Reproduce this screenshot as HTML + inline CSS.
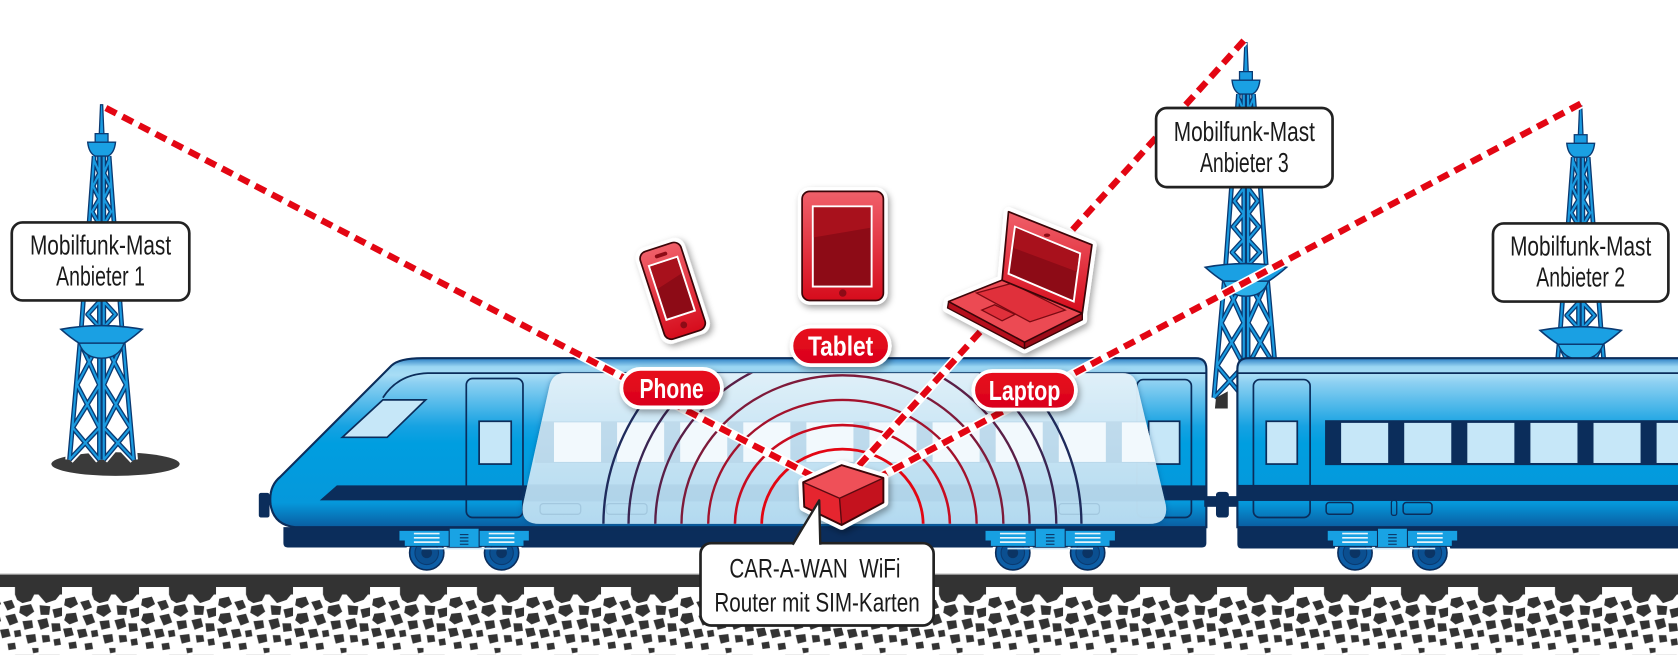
<!DOCTYPE html>
<html><head><meta charset="utf-8"><style>
html,body{margin:0;padding:0;background:#fff;}
svg{display:block;}
text{font-family:"Liberation Sans",Arial,sans-serif;}
</style></head><body>
<svg width="1678" height="664" viewBox="0 0 1569 621" preserveAspectRatio="none" xmlns="http://www.w3.org/2000/svg" xmlns:xlink="http://www.w3.org/1999/xlink">
<defs>
  <linearGradient id="bodyG" gradientUnits="userSpaceOnUse" x1="0" y1="335" x2="0" y2="494">
    <stop offset="0" stop-color="#2a7fc4"/>
    <stop offset="0.05" stop-color="#9ad6f3"/>
    <stop offset="0.1" stop-color="#a8ddf5"/>
    <stop offset="0.14" stop-color="#8ed1f2"/>
    <stop offset="0.4" stop-color="#16a2e2"/>
    <stop offset="0.5" stop-color="#009ee0"/>
    <stop offset="0.85" stop-color="#0598db"/>
    <stop offset="1" stop-color="#0a5a9e"/>
  </linearGradient>
  <linearGradient id="glassG" x1="0" y1="0" x2="0" y2="1">
    <stop offset="0" stop-color="#e4f3fb"/>
    <stop offset="0.5" stop-color="#cde8f7"/>
    <stop offset="1" stop-color="#b9def3"/>
  </linearGradient>
  <linearGradient id="redG" x1="0" y1="0" x2="0" y2="1">
    <stop offset="0" stop-color="#f0606a"/>
    <stop offset="1" stop-color="#d60c1c"/>
  </linearGradient>
  <linearGradient id="pillG" x1="0" y1="0" x2="0" y2="1">
    <stop offset="0" stop-color="#e8101f"/>
    <stop offset="1" stop-color="#d9001a"/>
  </linearGradient>
  <filter id="sh" x="-30%" y="-30%" width="170%" height="170%">
    <feDropShadow dx="2" dy="3" stdDeviation="3" flood-color="#000" flood-opacity="0.35"/>
  </filter>
  <filter id="glassSh" x="-5%" y="-10%" width="110%" height="125%">
    <feDropShadow dx="0" dy="1" stdDeviation="2.5" flood-color="#0a3f7a" flood-opacity="0.55"/>
  </filter>
  <clipPath id="ovClip">
    <path d="M528,349 L1050,349 Q1060,349 1063,359 L1090,472 Q1093,490 1074,490 L505,490 Q486,490 489,472 L514,360 Q517,349 528,349 Z"/>
  </clipPath>
  <pattern id="notch" patternUnits="userSpaceOnUse" x="58" y="549" width="72" height="8">
    <rect x="0" y="0" width="28" height="8" fill="#fff"/>
  </pattern>
  <pattern id="grav" patternUnits="userSpaceOnUse" x="58" y="556" width="72" height="56">
    <g fill="#333">
      <polygon points="28,0 46,0 43,6 35,8 30,5"/>
      <polygon points="50,0 70,0 66,5 57,8"/>
      <polygon points="3,4 12,2 15,9 8,13 2,10"/>
      <polygon points="17,7 25,5 28,12 21,15"/>
      <polygon points="33,11 43,9 46,16 39,21 32,17"/>
      <polygon points="51,10 61,11 60,19 52,19"/>
      <polygon points="63,14 72,12 72,20 65,22"/>
      <polygon points="4,18 13,17 15,25 7,28 2,24"/>
      <polygon points="19,20 28,18 31,26 23,29"/>
      <polygon points="35,25 44,24 45,31 37,33"/>
      <polygon points="49,24 58,22 60,30 52,33"/>
      <polygon points="62,27 70,27 71,34 63,35"/>
      <polygon points="1,32 9,31 11,38 3,40"/>
      <polygon points="14,33 22,32 24,39 16,41"/>
      <polygon points="27,34 33,33 34,39 28,40"/>
      <polygon points="38,38 47,37 48,44 40,46"/>
      <polygon points="53,38 60,38 61,44 54,45"/>
      <polygon points="64,42 70,41 71,47 65,48"/>
      <polygon points="6,45 13,44 14,50 7,51"/>
      <polygon points="21,46 28,45 29,51 22,52"/>
      <polygon points="44,50 50,50 50,54 45,55"/>
    </g>
  </pattern>
  <g id="tw">
    <path d="M-7,48 L-19,209 L-30,332 M7,48 L19,209 L30,332 M-2,48 L-2,332 M2,48 L2,332 M-7,52 L-2,64 L-8,76 L-2,88 L-9,100 L-2,112 L-10,124 L-2,136 L-11,148 L-2,160 L-12,172 L-2,184 L-13,196 L-2,208 M7,52 L2,64 L8,76 L2,88 L9,100 L2,112 L10,124 L2,136 L11,148 L2,160 L12,172 L2,184 L13,196 L2,208 M-20,222 L-2,262 M-2,222 L-23,262 M-23,262 L-2,302 M-2,262 L-27,302 M-27,302 L-2,332 M-2,302 L-30,332 M20,222 L2,262 M2,222 L23,262 M23,262 L2,302 M2,262 L27,302 M27,302 L2,332 M2,302 L30,332" fill="none" stroke="#fff" stroke-width="8" stroke-linejoin="round"/>
    <path d="M-7,48 L-19,209 L-30,332 M7,48 L19,209 L30,332 M-2,48 L-2,332 M2,48 L2,332 M-7,52 L-2,64 L-8,76 L-2,88 L-9,100 L-2,112 L-10,124 L-2,136 L-11,148 L-2,160 L-12,172 L-2,184 L-13,196 L-2,208 M7,52 L2,64 L8,76 L2,88 L9,100 L2,112 L10,124 L2,136 L11,148 L2,160 L12,172 L2,184 L13,196 L2,208 M-20,222 L-2,262 M-2,222 L-23,262 M-23,262 L-2,302 M-2,262 L-27,302 M-27,302 L-2,332 M-2,302 L-30,332 M20,222 L2,262 M2,222 L23,262 M23,262 L2,302 M2,262 L27,302 M27,302 L2,332 M2,302 L30,332" fill="none" stroke="#0a3a72" stroke-width="4.5" stroke-linejoin="round"/>
    <path d="M-7,48 L-19,209 L-30,332 M7,48 L19,209 L30,332 M-2,48 L-2,332 M2,48 L2,332 M-7,52 L-2,64 L-8,76 L-2,88 L-9,100 L-2,112 L-10,124 L-2,136 L-11,148 L-2,160 L-12,172 L-2,184 L-13,196 L-2,208 M7,52 L2,64 L8,76 L2,88 L9,100 L2,112 L10,124 L2,136 L11,148 L2,160 L12,172 L2,184 L13,196 L2,208 M-20,222 L-2,262 M-2,222 L-23,262 M-23,262 L-2,302 M-2,262 L-27,302 M-27,302 L-2,332 M-2,302 L-30,332 M20,222 L2,262 M2,222 L23,262 M23,262 L2,302 M2,262 L27,302 M27,302 L2,332 M2,302 L30,332" fill="none" stroke="#1a9be0" stroke-width="2" stroke-linejoin="round"/>
    <path d="M-1,0 L1,0 L2.2,28 L-2.2,28 Z" fill="#1a9be0" stroke="#0a3a72" stroke-width="1.2"/>
    <rect x="-6" y="27" width="12" height="8" fill="#1a9be0" stroke="#0a3a72" stroke-width="1.2"/>
    <path d="M-13,35 L13,35 Q12,45 6,48 L-6,48 Q-12,45 -13,35 Z" fill="#1aa0e3" stroke="#0a3a72" stroke-width="1.3"/>
    <path d="M-38,210 Q0,203 38,210 Q29,218 21,223 L-21,223 Q-29,218 -38,210 Z" fill="#1aa0e3" stroke="#0a3a72" stroke-width="1.5"/>
    <path d="M-21,223 Q-16,237 0,237 Q16,237 21,223 Z" fill="#2bb0ea" stroke="#0a3a72" stroke-width="1.3"/>
  </g>
  <g id="bog">
    <circle cx="-35" cy="517" r="19.5" fill="#fff"/>
    <circle cx="35" cy="517" r="19.5" fill="#fff"/>
    <circle cx="-35" cy="517" r="16" fill="#0d5ea6" stroke="#0b2d5b" stroke-width="1.5"/>
    <circle cx="35" cy="517" r="16" fill="#0d5ea6" stroke="#0b2d5b" stroke-width="1.5"/>
    <circle cx="-35" cy="517" r="11" fill="#0b4f90" stroke="#0a3a70" stroke-width="1"/>
    <circle cx="35" cy="517" r="11" fill="#0b4f90" stroke="#0a3a70" stroke-width="1"/>
    <circle cx="-35" cy="517" r="5" fill="#0b3464"/>
    <circle cx="35" cy="517" r="5" fill="#0b3464"/>
    <path d="M-61,496 L61,496 L61,506 L56,506 L56,511 L-56,511 L-56,506 L-61,506 Z" fill="#17a0e2" stroke="#0b2d5b" stroke-width="1"/>
    <rect x="-14" y="494" width="28" height="18" fill="#19a3e4" stroke="#0b2d5b" stroke-width="1"/>
    <path d="M-47,499 H-23 M-47,503 H-23 M-47,507 H-23 M23,499 H47 M23,503 H47 M23,507 H47" stroke="#e8f4fb" stroke-width="1.6"/>
    <path d="M-4,500 H4 M-4,503 H4 M-4,506 H4 M-4,509 H4" stroke="#0b2d5b" stroke-width="1"/>
    <path d="M-40,513 H40" stroke="#cfe8f7" stroke-width="1.5"/>
  </g>
</defs>

<rect width="1569" height="621" fill="#fff"/>

<!-- ground -->
<rect x="0" y="537" width="1569" height="19" fill="#333"/>
<rect x="0" y="536.5" width="1569" height="1.2" fill="#9a9a9a"/>
<rect x="0" y="549" width="1569" height="7" fill="url(#notch)"/>
<rect x="0" y="556" width="1569" height="56" fill="url(#grav)"/>

<!-- towers -->
<ellipse cx="108" cy="434" rx="60" ry="11" fill="#3a3a3a"/>
<use xlink:href="#tw" href="#tw" transform="translate(95,98)"/>
<use xlink:href="#tw" href="#tw" transform="translate(1165,40)"/>
<use xlink:href="#tw" href="#tw" transform="translate(1478,99)"/>
<polygon points="1137,372 1148,366 1148,382 1136,382" fill="#333"/>

<!-- locomotive -->
<rect x="242" y="461" width="10" height="23" rx="2" fill="#0b2d5b"/>
<path d="M395,335 L1118,335 Q1128,335 1128,345 L1128,493 L276,493 Q256,491 253,472 Q251,455 262,446 L366,342 Q373,335 395,335 Z" fill="url(#bodyG)" stroke="#0b2d5b" stroke-width="2"/>
<path d="M358,372 Q372,350 400,349 L1128,349" fill="none" stroke="#0b2d5b" stroke-width="1.6"/>
<polygon points="320,409 358,374 398,374 362,409" fill="#c6e7f8" stroke="#0b2d5b" stroke-width="1.6"/>
<rect x="436" y="354" width="53" height="130" rx="6" fill="none" stroke="#0b2d5b" stroke-width="1.6"/>
<rect x="448" y="394" width="30" height="40" fill="#c6e7f8" stroke="#0b2d5b" stroke-width="1.6"/>
<rect x="1063" y="355" width="51" height="129" rx="6" fill="none" stroke="#0b2d5b" stroke-width="1.6"/>
<rect x="1074" y="394" width="29" height="40" fill="#c6e7f8" stroke="#0b2d5b" stroke-width="1.6"/>
<polygon points="299,468 315,454 1128,454 1128,468" fill="#0b2d5b"/>
<path d="M265,493 L1128,493 L1128,508 Q1128,512 1124,512 L269,512 Q265,512 265,508 Z" fill="#0b2d5b"/>

<!-- coupler -->
<rect x="1126" y="464" width="33" height="10" fill="#0b2d5b"/>
<rect x="1137" y="460" width="12" height="24" rx="3" fill="#0b2d5b"/>

<!-- car 2 -->
<path d="M1157,493 L1157,345 Q1157,335 1167,335 L1600,335 L1600,493 Z" fill="url(#bodyG)" stroke="#0b2d5b" stroke-width="2"/>
<path d="M1157,349 L1600,349" stroke="#0b2d5b" stroke-width="1.6"/>
<rect x="1172" y="355" width="53" height="129" rx="6" fill="none" stroke="#0b2d5b" stroke-width="1.6"/>
<rect x="1184" y="394" width="29" height="40" fill="#c6e7f8" stroke="#0b2d5b" stroke-width="1.6"/>
<rect x="1239" y="393" width="361" height="42" fill="#0b2d5b"/>
<g fill="#c6e7f8">
  <rect x="1254" y="395.5" width="44" height="37.5"/>
  <rect x="1313" y="395.5" width="44" height="37.5"/>
  <rect x="1372" y="395.5" width="44" height="37.5"/>
  <rect x="1431" y="395.5" width="44" height="37.5"/>
  <rect x="1490" y="395.5" width="44" height="37.5"/>
  <rect x="1549" y="395.5" width="44" height="37.5"/>
</g>
<rect x="1157" y="453.5" width="443" height="15" fill="#0b2d5b"/>
<rect x="1240" y="470" width="25" height="11" rx="3" fill="none" stroke="#0b2d5b" stroke-width="1.4"/>
<rect x="1312" y="470" width="27" height="11" rx="3" fill="none" stroke="#0b2d5b" stroke-width="1.4"/>
<rect x="1301" y="468" width="5" height="14" rx="2" fill="none" stroke="#0b2d5b" stroke-width="1.2"/>
<path d="M1157,493 L1600,493 L1600,513 L1161,513 Q1157,513 1157,509 Z" fill="#0b2d5b"/>

<!-- bogies -->
<use xlink:href="#bog" href="#bog" x="434"/>
<use xlink:href="#bog" href="#bog" x="982"/>
<use xlink:href="#bog" href="#bog" x="1302"/>

<!-- glass overlay -->
<path d="M528,349 L1050,349 Q1060,349 1063,359 L1090,472 Q1093,490 1074,490 L505,490 Q486,490 489,472 L514,360 Q517,349 528,349 Z" fill="url(#glassG)" fill-opacity="0.95" filter="url(#glassSh)"/>
<g clip-path="url(#ovClip)">
  <rect x="500" y="394" width="580" height="39" fill="#b4d2e4" opacity="0.55"/>
  <g fill="#f2f9fd">
    <rect x="518" y="395" width="44" height="37"/>
    <rect x="577" y="395" width="44" height="37"/>
    <rect x="636" y="395" width="44" height="37"/>
    <rect x="695" y="395" width="44" height="37"/>
    <rect x="754" y="395" width="44" height="37"/>
    <rect x="813" y="395" width="44" height="37"/>
    <rect x="872" y="395" width="44" height="37"/>
    <rect x="931" y="395" width="44" height="37"/>
    <rect x="990" y="395" width="44" height="37"/>
    <rect x="1049" y="395" width="44" height="37"/>
  </g>
  <rect x="480" y="453" width="620" height="16" fill="#a6cbe2" opacity="0.45"/>
  <rect x="505" y="471" width="38" height="10" rx="3" fill="none" stroke="#a3c8df" stroke-width="1.2"/>
  <rect x="567" y="471" width="38" height="10" rx="3" fill="none" stroke="#a3c8df" stroke-width="1.2"/>
  <rect x="990" y="471" width="38" height="10" rx="3" fill="none" stroke="#a3c8df" stroke-width="1.2"/>
  <g fill="none" stroke-width="2.2">
    <path d="M564.2,491 A223.5 208 0 0 1 1011.2,491" stroke="#1f2b5c"/>
    <path d="M587.7,491 A200 186 0 0 1 987.7,491" stroke="#3a2552"/>
    <path d="M612.7,491 A175 163 0 0 1 962.7,491" stroke="#5a1f47"/>
    <path d="M637.2,491 A150.5 140 0 0 1 938.2,491" stroke="#7e1a3a"/>
    <path d="M662.2,491 A125.5 117 0 0 1 913.2,491" stroke="#a3122c"/>
    <path d="M687.2,491 A100.5 93.5 0 0 1 888.2,491" stroke="#c80c20" stroke-width="2.4"/>
    <path d="M712.2,491 A75.5 71 0 0 1 863.2,491" stroke="#e30613" stroke-width="2.6"/>
  </g>
</g>

<!-- dashed connectors -->
<g fill="none" stroke-linecap="butt">
  <path d="M99,101 L765,448" stroke="#fff" stroke-width="9"/>
  <path d="M1163,38 L790,450" stroke="#fff" stroke-width="9"/>
  <path d="M1478,97 L800,458" stroke="#fff" stroke-width="9"/>
  <path d="M99,101 L765,448" stroke="#e30613" stroke-width="6" stroke-dasharray="11 6.5"/>
  <path d="M1163,38 L790,450" stroke="#e30613" stroke-width="6" stroke-dasharray="11 6.5"/>
  <path d="M1478,97 L800,458" stroke="#e30613" stroke-width="6" stroke-dasharray="11 6.5"/>
</g>

<!-- tower labels -->
<g font-size="26" fill="#1a1a1a" text-anchor="middle">
  <rect x="11" y="208" width="166" height="73" rx="10" fill="#fff" stroke="#222" stroke-width="2.5"/>
  <text x="94" y="238" textLength="132" lengthAdjust="spacingAndGlyphs">Mobilfunk-Mast</text>
  <text x="94" y="267" textLength="83" lengthAdjust="spacingAndGlyphs">Anbieter 1</text>
  <rect x="1081" y="101" width="165" height="74" rx="10" fill="#fff" stroke="#222" stroke-width="2.5"/>
  <text x="1163.5" y="132" textLength="132" lengthAdjust="spacingAndGlyphs">Mobilfunk-Mast</text>
  <text x="1163.5" y="161" textLength="83" lengthAdjust="spacingAndGlyphs">Anbieter 3</text>
  <rect x="1396" y="209" width="164" height="73" rx="10" fill="#fff" stroke="#222" stroke-width="2.5"/>
  <text x="1478" y="239" textLength="132" lengthAdjust="spacingAndGlyphs">Mobilfunk-Mast</text>
  <text x="1478" y="268" textLength="83" lengthAdjust="spacingAndGlyphs">Anbieter 2</text>
</g>

<!-- phone device -->
<g transform="translate(629,272) rotate(-18)">
  <rect x="-24" y="-47" width="48" height="94" rx="10" fill="#fff" filter="url(#sh)"/>
  <rect x="-20" y="-43" width="40" height="86" rx="7" fill="url(#redG)" stroke="#3b0508" stroke-width="1.6"/>
  <rect x="-14" y="-29" width="28" height="53" fill="#8d0b16" stroke="#fff" stroke-width="1.8"/>
  <polygon points="-13,-28 13,-28 13,-13 -13,-6" fill="#a8111c"/>
  <rect x="-6" y="-37" width="12" height="3.5" rx="1.7" fill="#8d0b16"/>
  <circle cx="0" cy="33.5" r="3.2" fill="#8d0b16"/>
</g>

<!-- tablet device -->
<rect x="746" y="175" width="84" height="110" rx="11" fill="#fff" filter="url(#sh)"/>
<rect x="750" y="179" width="76" height="102" rx="7" fill="url(#redG)" stroke="#3b0508" stroke-width="1.6"/>
<rect x="760" y="193" width="55" height="75" fill="#8d0b16" stroke="#fff" stroke-width="1.8"/>
<polygon points="761,194 814,194 814,213 761,222" fill="#a8111c"/>
<circle cx="788" cy="274" r="3.5" fill="#8d0b16"/>

<!-- laptop device -->
<g>
  <polygon points="943,198 1021,229 1012,293 1012,299 958,326 886,288 887,282 937,262" fill="#fff" stroke="#fff" stroke-width="9" stroke-linejoin="round" filter="url(#sh)"/>
  <polygon points="887,282 958,320 958,326 886,288" fill="#b50f1c" stroke="#3b0508" stroke-width="1.3" stroke-linejoin="round"/>
  <polygon points="958,320 1012,293 1012,299 958,326" fill="#9c0c18" stroke="#3b0508" stroke-width="1.3" stroke-linejoin="round"/>
  <polygon points="937,262 1012,293 958,320 887,282" fill="#ec4a53" stroke="#3b0508" stroke-width="1.5" stroke-linejoin="round"/>
  <polygon points="913,274 946,265 996,290 963,301" fill="#e0303b" stroke="#7a0a12" stroke-width="1.2"/>
  <polygon points="918,290 930,285 949,294 937,300" fill="#e0303b" stroke="#7a0a12" stroke-width="1.2"/>
  <polygon points="943,198 1021,229 1012,293 937,262" fill="url(#redG)" stroke="#3b0508" stroke-width="1.6" stroke-linejoin="round"/>
  <polygon points="949,212 1010,237 1004,282 943,256" fill="#8d0b16" stroke="#fff" stroke-width="1.8"/>
  <polygon points="950,213 1009,238 1007,254 948,232" fill="#a8111c"/>
  <ellipse cx="979" cy="220" rx="3" ry="1.6" fill="#8d0b16"/>
</g>

<!-- pills -->
<g filter="url(#sh)">
  <rect x="581" y="345" width="94" height="36" rx="18" fill="url(#pillG)" stroke="#fff" stroke-width="3.5"/>
  <rect x="740" y="305.5" width="92" height="36" rx="18" fill="url(#pillG)" stroke="#fff" stroke-width="3.5"/>
  <rect x="910" y="347" width="96" height="36" rx="18" fill="url(#pillG)" stroke="#fff" stroke-width="3.5"/>
</g>
<g font-size="26" font-weight="bold" fill="#fff" text-anchor="middle">
  <text x="628" y="372" textLength="60" lengthAdjust="spacingAndGlyphs">Phone</text>
  <text x="786" y="332.5" textLength="61" lengthAdjust="spacingAndGlyphs">Tablet</text>
  <text x="958" y="374" textLength="67" lengthAdjust="spacingAndGlyphs">Laptop</text>
</g>

<!-- router -->
<g>
  <polygon points="751,451 787,435 826,447 826,470 787,491 752,474" fill="#fff" stroke="#fff" stroke-width="9" stroke-linejoin="round" filter="url(#sh)"/>
  <polygon points="751,451 785,466 787,491 752,474" fill="#e5252f"/>
  <polygon points="785,466 826,447 826,470 787,491" fill="#c4121e"/>
  <polygon points="751,451 787,435 826,447 785,466" fill="#ef5058"/>
  <path d="M751,451 L785,466 L826,447 M785,466 L787,491" fill="none" stroke="#5a0a10" stroke-width="1.3"/>
  <polygon points="751,451 787,435 826,447 826,470 787,491 752,474" fill="none" stroke="#3b0508" stroke-width="1.8" stroke-linejoin="round"/>
</g>

<!-- callout -->
<rect x="655" y="508" width="218" height="77" rx="10" fill="#fff" stroke="#222" stroke-width="2.5"/>
<polygon points="741,512 766,468 767,512" fill="#fff"/>
<polyline points="741,509.5 766,468 767,509.5" fill="none" stroke="#222" stroke-width="2.2" stroke-linejoin="round"/>
<g font-size="25" fill="#1a1a1a" text-anchor="middle">
  <text x="762" y="540" textLength="160" lengthAdjust="spacingAndGlyphs" style="white-space:pre">CAR-A-WAN  WiFi</text>
  <text x="764" y="572" textLength="192" lengthAdjust="spacingAndGlyphs">Router mit SIM-Karten</text>
</g>
</svg>
</body></html>
